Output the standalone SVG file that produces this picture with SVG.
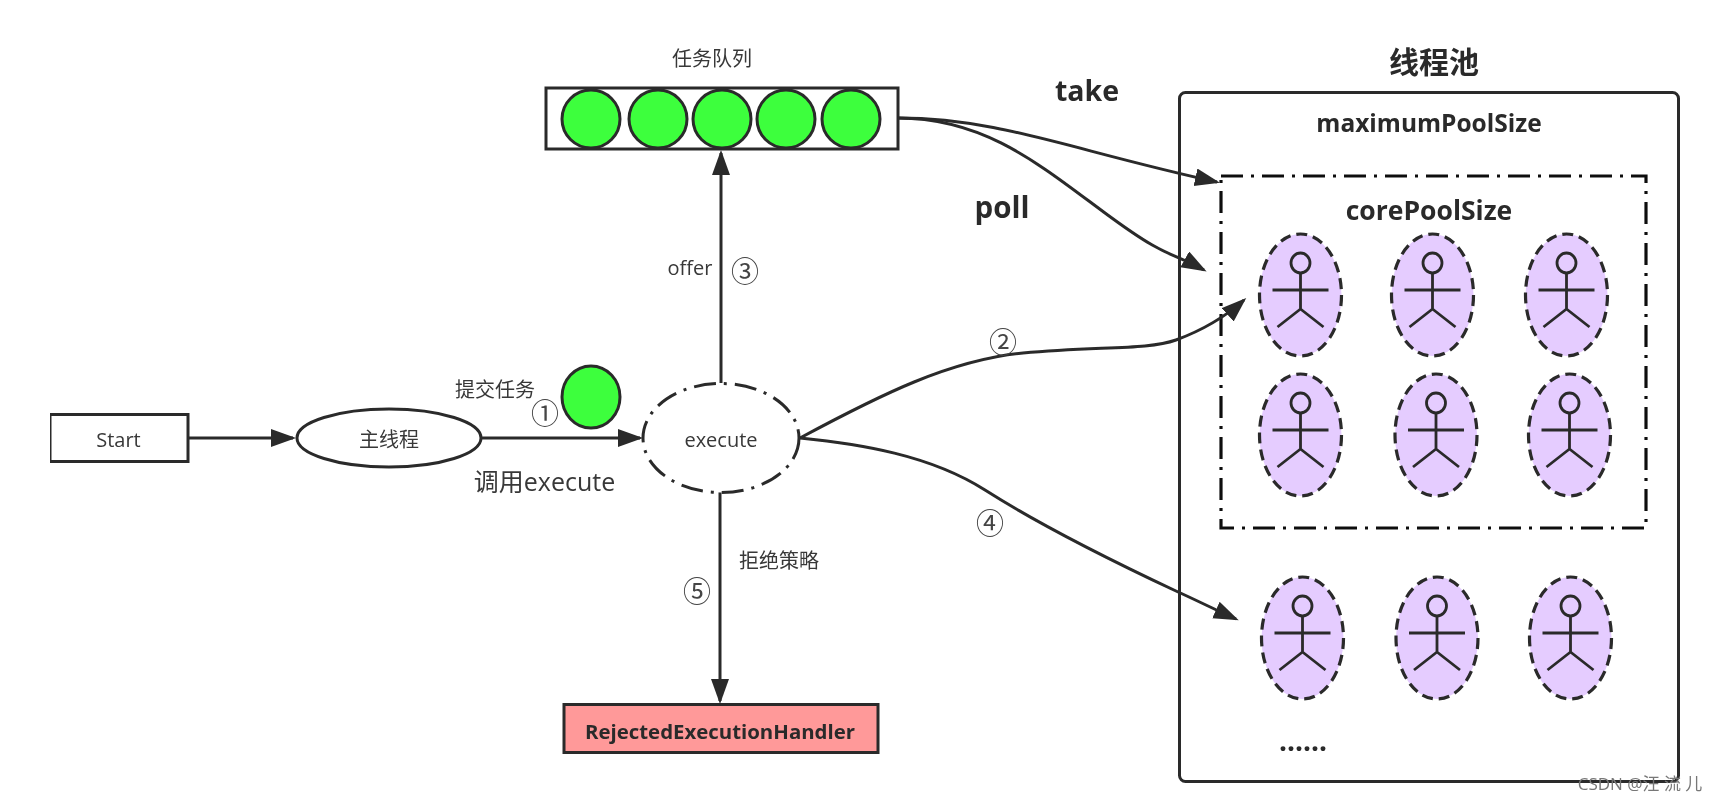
<svg xmlns="http://www.w3.org/2000/svg" width="1717" height="802" viewBox="0 0 1717 802">
<style>
text{font-family:"Open Sans","Noto Sans CJK SC","Noto Sans",sans-serif;fill:#383838;text-anchor:middle}
.b{font-weight:700;fill:#2a2a2a}
.ln{fill:none;stroke:#2a2a2a;stroke-width:3}
.q{fill:#3dff3d;stroke:#2a2a2a;stroke-width:3}
.w{fill:none;stroke:#2a2a2a;stroke-width:2.8}
.p{fill:#e5ccff;stroke:#2a2a2a;stroke-width:3.200;stroke-dasharray:11 6}
.t{font-size:20px}
.c{font-size:28px;fill:#444}
</style>
<defs>
<marker id="a" markerUnits="userSpaceOnUse" markerWidth="30" markerHeight="24" refX="22" refY="9" orient="auto"><path d="M0 0L25 9L0 18Z" fill="#2a2a2a"/></marker>
<filter id="s" x="0" y="0" width="100%" height="100%"><feGaussianBlur stdDeviation="0.65"/></filter>
<g id="actor" class="w"><ellipse cx="0" cy="-32" rx="9.5" ry="10"/><path d="M0 -22V14M-28 -5H28M0 14L-23 32M0 14L23 32"/></g>
</defs>
<rect width="1717" height="802" fill="#fff"/>
<g filter="url(#s)">
<g id="queue"><rect x="546" y="88" width="352" height="61" fill="#fff" stroke="#2a2a2a" stroke-width="3"/>
<ellipse class="q" cx="591" cy="119" rx="29" ry="29"/><ellipse class="q" cx="658" cy="119" rx="29" ry="29"/><ellipse class="q" cx="722" cy="119" rx="29" ry="29"/><ellipse class="q" cx="786" cy="119" rx="29" ry="29"/><ellipse class="q" cx="851" cy="119" rx="29" ry="29"/>
<text class="t" x="712" y="66">任务队列</text></g>
<g id="pool"><rect x="1179.500" y="92.500" width="499" height="689" rx="6" fill="#fff" stroke="#2a2a2a" stroke-width="3"/>
<text class="b" x="1429" y="132" font-size="24.500">maximumPoolSize</text>
<text class="b" x="1434" y="73" font-size="30">线程池</text></g>
<g id="core"><rect x="1221" y="176" width="425" height="352" fill="none" stroke="#111" stroke-width="3.200" stroke-dasharray="22 8 3 8"/>
<text class="b" x="1429" y="220" font-size="26.500">corePoolSize</text></g>
<g id="workers">
<g id="w1"><ellipse class="p" cx="1300.500" cy="295" rx="41" ry="61"/><use href="#actor" x="1300.500" y="295"/></g>
<g id="w2"><ellipse class="p" cx="1432.500" cy="295" rx="41" ry="61"/><use href="#actor" x="1432.500" y="295"/></g>
<g id="w3"><ellipse class="p" cx="1566.500" cy="295" rx="41" ry="61"/><use href="#actor" x="1566.500" y="295"/></g>
<g id="w4"><ellipse class="p" cx="1300.500" cy="435" rx="41" ry="61"/><use href="#actor" x="1300.500" y="435"/></g>
<g id="w5"><ellipse class="p" cx="1436" cy="435" rx="41" ry="61"/><use href="#actor" x="1436" y="435"/></g>
<g id="w6"><ellipse class="p" cx="1569.500" cy="435" rx="41" ry="61"/><use href="#actor" x="1569.500" y="435"/></g>
<g id="w7"><ellipse class="p" cx="1302.500" cy="638" rx="41" ry="61"/><use href="#actor" x="1302.500" y="638"/></g>
<g id="w8"><ellipse class="p" cx="1437" cy="638" rx="41" ry="61"/><use href="#actor" x="1437" y="638"/></g>
<g id="w9"><ellipse class="p" cx="1570.500" cy="638" rx="41" ry="61"/><use href="#actor" x="1570.500" y="638"/></g>
</g>
<g id="connectors">
<path class="ln" d="M188 438H293" marker-end="url(#a)"/>
<path class="ln" d="M481 438H640" marker-end="url(#a)"/>
<path class="ln" d="M721 383V153" marker-end="url(#a)"/>
<path class="ln" d="M720 492V701" marker-end="url(#a)"/>
<path class="ln" d="M898 118C1000 118 1070 150 1217 182" marker-end="url(#a)"/>
<path class="ln" d="M898 118C985 118 1040 165 1105 213S1168 250 1204 270" marker-end="url(#a)"/>
<path class="ln" d="M800 438C880 395 950 360 1023 353C1098 346 1148 350 1176 340C1203 330 1224 318 1244 300" marker-end="url(#a)"/>
<path class="ln" d="M800 438C860 444 930 455 985 490C1040 525 1110 560 1176 591C1198 601 1216 610 1236 619" marker-end="url(#a)"/>
</g>
<g id="start"><rect x="50" y="414.500" width="138" height="47" fill="#fff" stroke="#2a2a2a" stroke-width="3"/><text x="118.500" y="447" font-size="20">Start</text></g>
<g id="main"><ellipse cx="389" cy="438" rx="92" ry="29" fill="#fff" stroke="#2a2a2a" stroke-width="3"/><text class="t" x="389" y="447">主线程</text></g>
<g id="execute"><ellipse cx="721" cy="438" rx="78" ry="54.500" fill="#fff" stroke="#2a2a2a" stroke-width="3" stroke-dasharray="22 8 3 8"/><text x="721" y="447" font-size="20">execute</text></g>
<g id="task"><ellipse class="q" cx="591" cy="397" rx="29" ry="31"/></g>
<g id="handler"><rect x="564" y="704.500" width="314" height="48" fill="#ff9999" stroke="#2a2a2a" stroke-width="3"/><text x="720" y="739" font-size="20.400" font-weight="700" style="fill:#2a2a2a">RejectedExecutionHandler</text></g>
<g id="labels">
<text class="t" x="495" y="397">提交任务</text>
<text class="c" x="545" y="424">①</text>
<text x="544.500" y="491" font-size="25">调用execute</text>
<text x="690" y="275" font-size="20">offer</text>
<text class="c" x="745" y="282">③</text>
<text class="t" x="779" y="568">拒绝策略</text>
<text class="c" x="697" y="602">⑤</text>
<text class="c" x="1003" y="353">②</text>
<text class="c" x="990" y="534">④</text>
<text class="b" x="1087" y="101" font-size="28.500">take</text>
<text class="b" x="1002" y="218" font-size="29.500">poll</text>
<text class="b" x="1303" y="751" font-size="28">......</text>
</g>
<text x="1640" y="790" font-size="17" style="fill:#777">CSDN @汪 流 儿</text>
</g>
</svg>
